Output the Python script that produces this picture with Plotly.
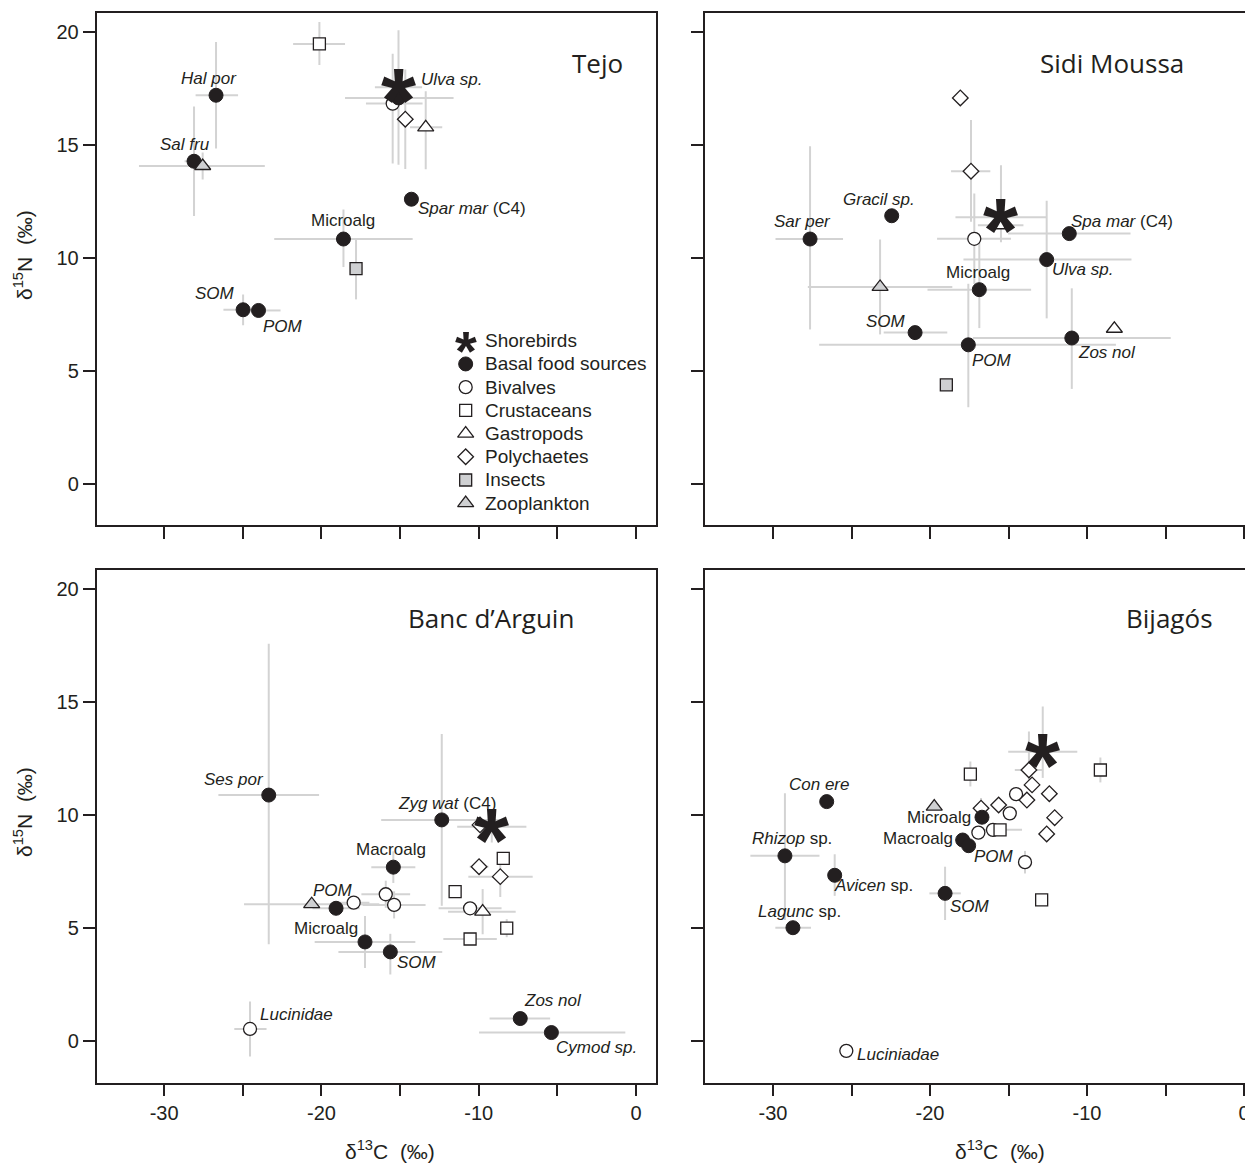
import plotly.graph_objects as go

# ---------------------------------------------------------------- data ----
GROUP_ORDER = ["Bivalves", "Crustaceans", "Gastropods", "Polychaetes",
               "Insects", "Basal food sources", "Zooplankton"]
LEGEND_NAMES = ["Shorebirds", "Basal food sources", "Bivalves", "Crustaceans",
                "Gastropods", "Polychaetes", "Insects", "Zooplankton"]

X_TICKS = [-30, -20, -10, 0]
X_TICK_TEXT = ["-30", "-20", "-10", "0"]
X_MINOR_STEP = 5
Y_TICKS = [0, 5, 10, 15, 20]

# --- Tejo
TEJO_GROUP = ["Shorebirds", "Basal food sources", "Bivalves", "Polychaetes", "Gastropods",
              "Crustaceans", "Basal food sources", "Basal food sources", "Zooplankton",
              "Basal food sources", "Insects", "Basal food sources", "Basal food sources",
              "Basal food sources"]
TEJO_X = [-15.1, -15.1, -15.47, -14.67, -13.37, -20.13, -26.7, -28.1, -27.55, -18.6, -17.8,
          -24.98, -24.0, -14.28]
TEJO_Y = [17.55, 17.08, 16.83, 16.14, 15.78, 19.47, 17.2, 14.28, 14.07, 10.84, 9.53, 7.71,
          7.68, 12.6]
TEJO_EXM = [1.5, 3.4, 1.7, 0.5, 1.0, 1.67, 1.3, 0.6, 4.05, 4.4, 0, 1.25, 0.5, 0]
TEJO_EXP = [1.5, 3.5, 1.9, 0.5, 1.05, 1.63, 1.4, 0.6, 3.95, 4.4, 0, 0.5, 1.4, 0]
TEJO_EYM = [0.8, 2.95, 2.65, 2.2, 1.85, 0.93, 2.36, 2.42, 0.6, 1.24, 1.36, 0.68, 0.3, 0]
TEJO_EYP = [0.8, 3.0, 2.2, 2.2, 1.6, 0.97, 2.36, 2.42, 0.6, 1.31, 1.31, 0.68, 0.3, 0]

# --- Sidi Moussa
SIDI_GROUP = ["Shorebirds", "Gastropods", "Polychaetes", "Polychaetes", "Basal food sources",
              "Basal food sources", "Zooplankton", "Bivalves", "Basal food sources",
              "Basal food sources", "Basal food sources", "Basal food sources",
              "Basal food sources", "Basal food sources", "Gastropods", "Insects"]
SIDI_X = [-15.48, -15.5, -18.07, -17.39, -22.44, -27.64, -23.18, -17.18, -11.13, -12.57,
          -16.86, -20.95, -17.56, -10.97, -8.26, -18.96]
SIDI_Y = [11.8, 11.45, 17.08, 13.84, 11.87, 10.84, 8.72, 10.85, 11.08, 9.93, 8.6, 6.7, 6.16,
          6.46, 6.87, 4.39]
SIDI_EXM = [2.9, 1.45, 0, 1.27, 0, 2.2, 4.6, 2.37, 3.9, 5.3, 3.3, 2.0, 9.5, 6.3, 0, 0]
SIDI_EXP = [2.9, 1.45, 0, 1.23, 0, 2.1, 4.6, 2.34, 3.9, 5.4, 3.3, 2.05, 9.4, 6.3, 0, 0]
SIDI_EYM = [1.1, 0, 0, 2.24, 0, 4.0, 2.1, 2.0, 0, 2.6, 1.7, 0.3, 2.76, 2.25, 0, 0]
SIDI_EYP = [2.3, 0, 0, 2.26, 0, 4.1, 2.1, 2.0, 0, 2.6, 2.1, 0.3, 2.7, 2.2, 0, 0]

# --- Banc d'Arguin
BANC_GROUP = ["Shorebirds", "Basal food sources", "Zooplankton", "Basal food sources",
              "Bivalves", "Basal food sources", "Bivalves", "Basal food sources",
              "Polychaetes", "Crustaceans", "Polychaetes", "Polychaetes",
              "Basal food sources", "Crustaceans", "Bivalves", "Bivalves", "Bivalves",
              "Gastropods", "Crustaceans", "Crustaceans", "Basal food sources",
              "Basal food sources", "Basal food sources"]
BANC_X = [-9.17, -23.35, -20.62, -19.07, -17.95, -17.23, -24.54, -12.35, -9.92, -8.44, -9.98,
          -8.63, -15.43, -11.5, -15.91, -15.38, -10.55, -9.75, -8.22, -10.55, -15.62, -7.36,
          -5.38]
BANC_Y = [9.48, 10.88, 6.05, 5.87, 6.12, 4.38, 0.53, 9.78, 9.56, 8.08, 7.71, 7.27, 7.69, 6.61,
          6.49, 6.02, 5.87, 5.72, 4.99, 4.51, 3.94, 0.99, 0.37]
BANC_EXM = [2.2, 3.2, 4.3, 1.5, 1.0, 3.2, 1.0, 3.85, 0, 0, 0.6, 2.03, 1.4, 0, 1.55, 2.0, 2.0,
            2.2, 0, 1.7, 3.3, 1.95, 4.6]
BANC_EXP = [2.2, 3.2, 4.3, 1.5, 1.0, 3.2, 1.05, 3.85, 0, 0, 0.6, 2.06, 1.4, 0, 1.55, 2.0, 2.0,
            2.1, 0, 1.7, 3.3, 1.9, 4.7]
BANC_EYM = [0.7, 6.6, 0, 0.3, 0, 1.15, 1.22, 3.8, 0, 0, 0, 0.9, 0.7, 0, 0.6, 0.6, 0, 1.0, 0.4,
            0, 1.0, 0.3, 0]
BANC_EYP = [0.7, 6.7, 0, 0.3, 0, 1.15, 1.21, 3.8, 0, 0, 0, 0.9, 0.7, 0, 0.6, 0.6, 0, 1.0, 0.4,
            0, 0.8, 0.3, 0]

# --- Bijagós
BIJA_GROUP = ["Shorebirds", "Crustaceans", "Crustaceans", "Crustaceans", "Crustaceans",
              "Polychaetes", "Polychaetes", "Polychaetes", "Polychaetes", "Polychaetes",
              "Polychaetes", "Polychaetes", "Polychaetes", "Bivalves", "Bivalves", "Bivalves",
              "Bivalves", "Bivalves", "Bivalves", "Zooplankton", "Basal food sources",
              "Basal food sources", "Basal food sources", "Basal food sources",
              "Basal food sources", "Basal food sources", "Basal food sources",
              "Basal food sources"]
BIJA_X = [-12.82, -17.43, -9.15, -15.54, -12.89, -13.7, -13.5, -12.4, -13.83, -15.63, -16.75,
          -12.06, -12.57, -14.52, -14.92, -16.92, -15.99, -13.95, -25.33, -19.73, -26.58,
          -29.24, -26.07, -28.73, -16.69, -17.92, -17.54, -19.04]
BIJA_Y = [12.8, 11.81, 11.99, 9.34, 6.24, 11.99, 11.33, 10.94, 10.66, 10.44, 10.3, 9.88, 9.16,
          10.92, 10.07, 9.22, 9.34, 7.91, -0.44, 10.37, 10.59, 8.19, 7.33, 5.01, 9.9, 8.89,
          8.64, 6.53]
BIJA_EXM = [2.2, 0, 0, 1.4, 0, 0.9, 0, 0, 0, 0, 0, 0, 0, 0, 0, 0, 0, 0, 0, 0, 0, 2.2, 0, 1.12,
            0, 0, 0, 1.0]
BIJA_EXP = [2.2, 0, 0, 1.4, 0, 0.9, 0, 0, 0, 0, 0, 0, 0, 0, 0, 0, 0, 0, 0, 0, 0, 2.2, 0, 1.15,
            0, 0, 0, 1.0]
BIJA_EYM = [1.16, 0.55, 0.55, 0, 0, 0.5, 0, 0, 0, 0, 0.45, 0, 0, 0, 0, 0, 0, 0.5, 0, 0, 0,
            2.84, 0.91, 0, 0, 0, 0, 1.18]
BIJA_EYP = [2.0, 0.55, 0.55, 0, 0, 1.7, 0, 0, 0, 0, 0.45, 0, 0, 0, 0, 0, 0, 0.5, 0, 0, 0,
            2.77, 0.93, 0, 0, 0, 0, 1.18]

# point labels: (text, x, y) in data units of each panel
TEJO_LABELS = [("<i>Hal por</i>", -27.15, 17.96), ("<i>Sal fru</i>", -28.67, 15.04),
               ("Microalg", -18.63, 11.64), ("<i>SOM</i>", -26.76, 8.45),
               ("<i>POM</i>", -22.44, 6.95), ("<i>Ulva sp.</i>", -11.75, 17.88),
               ("<i>Spar mar</i> (C4)", -10.4, 12.18)]
SIDI_LABELS = [("<i>Gracil sp.</i>", -23.25, 12.6), ("<i>Sar per</i>", -28.1, 11.62),
               ("Microalg", -16.96, 9.35), ("<i>Spa mar</i> (C4)", -7.75, 11.6),
               ("<i>Ulva sp.</i>", -10.3, 9.5), ("<i>SOM</i>", -22.8, 7.21),
               ("<i>POM</i>", -16.05, 5.47), ("<i>Zos nol</i>", -8.75, 5.84)]
BANC_LABELS = [("<i>Ses por</i>", -25.54, 11.59), ("<i>POM</i>", -19.28, 6.65),
               ("Microalg", -19.71, 4.96), ("<i>Lucinidae</i>", -21.61, 1.15),
               ("<i>Zyg wat</i> (C4)", -12.03, 10.49), ("Macroalg", -15.58, 8.45),
               ("<i>SOM</i>", -13.94, 3.46), ("<i>Zos nol</i>", -5.26, 1.81),
               ("<i>Cymod sp.</i>", -2.5, -0.28)]
BIJA_LABELS = [("<i>Con ere</i>", -27.05, 11.36), ("<i>Rhizop</i> sp.", -28.77, 8.94),
               ("<i>Avicen</i> sp.", -23.57, 6.87), ("<i>Lagunc</i> sp.", -28.34, 5.74),
               ("Microalg", -19.41, 9.87), ("Macroalg", -20.79, 8.94),
               ("<i>POM</i>", -15.92, 8.15), ("<i>SOM</i>", -17.45, 5.97),
               ("<i>Luciniadae</i>", -22.02, -0.58)]

PANEL_TITLES = ["Tejo", "Sidi Moussa", "Banc d\u2019Arguin", "Bijag\u00f3s"]

# ---------------------------------------------------------------- style ---
INK = "#231f20"
GREY = "#cfd0d2"
ERRC = "#d3d3d3"
FONT = "Liberation Sans"

STYLE = {
    "Basal food sources": dict(symbol="circle", size=14, color=INK, line=dict(color=INK, width=1)),
    "Bivalves": dict(symbol="circle", size=13, color="white", line=dict(color=INK, width=1.3)),
    "Crustaceans": dict(symbol="square", size=12, color="white", line=dict(color=INK, width=1.3)),
    "Gastropods": dict(symbol="triangle-up", size=14, color="white", line=dict(color=INK, width=1.3)),
    "Polychaetes": dict(symbol="diamond", size=12, color="white", line=dict(color=INK, width=1.3)),
    "Insects": dict(symbol="square", size=12, color=GREY, line=dict(color=INK, width=1.3)),
    "Zooplankton": dict(symbol="triangle-up", size=14, color=GREY, line=dict(color=INK, width=1.3)),
}

# page offset (default body margin) -> figure drawn 8 px in from the page corner
OFF = 8
W, H = 1253 - OFF, 1165 - OFF


def px_x(p):
    return (p - OFF) / W


def px_y(p):
    return 1 - (p - OFF) / H


XD = [[px_x(96.5), px_x(656)], [px_x(705), 1.0]]
YD = [[px_y(525), px_y(12.5)], [px_y(1082.5), px_y(570)]]
XR = [[-34.3, 1.27], [-34.33, 0.57]]
YR = [[-1.81, 20.86], [-1.84, 20.84]]
TITLE_POS = [(-2.48, 18.63), (-8.43, 18.63), (-9.19, 18.72), (-4.75, 18.72)]

PANELS = [
    (TEJO_GROUP, TEJO_X, TEJO_Y, TEJO_EXM, TEJO_EXP, TEJO_EYM, TEJO_EYP, TEJO_LABELS),
    (SIDI_GROUP, SIDI_X, SIDI_Y, SIDI_EXM, SIDI_EXP, SIDI_EYM, SIDI_EYP, SIDI_LABELS),
    (BANC_GROUP, BANC_X, BANC_Y, BANC_EXM, BANC_EXP, BANC_EYM, BANC_EYP, BANC_LABELS),
    (BIJA_GROUP, BIJA_X, BIJA_Y, BIJA_EXM, BIJA_EXP, BIJA_EYM, BIJA_EYP, BIJA_LABELS),
]

fig = go.Figure()
annotations = []
layout_axes = {}

for i, (grp, xs, ys, exm, exp, eym, eyp, labels) in enumerate(PANELS):
    col, row = i % 2, i // 2
    sfx = "" if i == 0 else str(i + 1)
    xref, yref = "x" + sfx, "y" + sfx

    # error bars (behind all markers)
    fig.add_trace(go.Scatter(
        x=xs, y=ys, mode="markers", xaxis=xref, yaxis=yref,
        marker=dict(size=2, opacity=0), hoverinfo="skip", showlegend=False,
        error_x=dict(type="data", symmetric=False, array=exp, arrayminus=exm,
                     color=ERRC, thickness=2, width=0),
        error_y=dict(type="data", symmetric=False, array=eyp, arrayminus=eym,
                     color=ERRC, thickness=2, width=0)))

    for g in GROUP_ORDER:
        gx = [x for x, gg in zip(xs, grp) if gg == g]
        gy = [y for y, gg in zip(ys, grp) if gg == g]
        if not gx:
            continue
        fig.add_trace(go.Scatter(x=gx, y=gy, mode="markers", xaxis=xref, yaxis=yref,
                                 marker=STYLE[g], name=g, showlegend=False))

    # shorebirds as a bold asterisk glyph
    for x, y, gg in zip(xs, ys, grp):
        if gg == "Shorebirds":
            annotations.append(dict(x=x, y=y, xref=xref, yref=yref, text="*", showarrow=False,
                                    yshift=-14, font=dict(family=FONT, size=90, color=INK,
                                                          weight="bold")))

    for txt, lx, ly in labels:
        annotations.append(dict(x=lx, y=ly, xref=xref, yref=yref, text=txt, showarrow=False,
                                font=dict(family=FONT, size=17, color=INK)))

    tx, ty = TITLE_POS[i]
    annotations.append(dict(x=tx, y=ty, xref=xref, yref=yref, text=PANEL_TITLES[i],
                            showarrow=False, font=dict(family="Open Sans", size=26, color=INK)))

    layout_axes["xaxis" + sfx] = dict(
        domain=XD[col], range=XR[col], anchor=yref, tickmode="array",
        tickvals=X_TICKS, ticktext=X_TICK_TEXT,
        minor=dict(tickmode="linear", tick0=0, dtick=X_MINOR_STEP, ticks="outside",
                   ticklen=12, tickwidth=1.5, tickcolor=INK, showgrid=False),
        showticklabels=(row == 1), ticks="outside", ticklen=12, tickwidth=1.5, tickcolor=INK,
        showline=True, linecolor=INK, linewidth=1.5, mirror=True, showgrid=False,
        zeroline=False, tickfont=dict(family=FONT, size=20, color=INK))
    layout_axes["yaxis" + sfx] = dict(
        domain=YD[row], range=YR[row], anchor=xref, tickvals=Y_TICKS,
        showticklabels=(col == 0), ticks="outside", ticklen=12, tickwidth=1.5, tickcolor=INK,
        showline=True, linecolor=INK, linewidth=1.5, mirror=(col == 0), showgrid=False,
        zeroline=False, tickfont=dict(family=FONT, size=20, color=INK))

# legend (top-left panel)
LEG_MARK_X, LEG_TEXT_X = -10.83, -9.75
for k, name in enumerate(LEGEND_NAMES):
    ly = (484 - (340.7 + 23.2 * k)) / 22.6
    if name == "Shorebirds":
        annotations.append(dict(x=LEG_MARK_X, y=ly, xref="x", yref="y", text="*", showarrow=False,
                                yshift=-10, font=dict(family=FONT, size=56, color=INK,
                                                      weight="bold")))
    else:
        fig.add_trace(go.Scatter(x=[LEG_MARK_X], y=[ly], mode="markers", xaxis="x", yaxis="y",
                                 marker=STYLE[name], showlegend=False, hoverinfo="skip"))
    annotations.append(dict(x=LEG_TEXT_X, y=ly, xref="x", yref="y", text=name, showarrow=False,
                            xanchor="left", font=dict(family=FONT, size=19, color=INK)))

# axis titles
for yc in (px_y(255), px_y(812)):
    annotations.append(dict(x=px_x(23), y=yc, xref="paper", yref="paper", showarrow=False,
                            xanchor="center", yanchor="middle",
                            text="\u03b4<sup>15</sup>N  (\u2030)", textangle=-90,
                            font=dict(family=FONT, size=21, color=INK)))
for xc in (px_x(390), px_x(1000)):
    annotations.append(dict(x=xc, y=px_y(1150), xref="paper", yref="paper", showarrow=False,
                            xanchor="center", yanchor="middle",
                            text="\u03b4<sup>13</sup>C  (\u2030)",
                            font=dict(family=FONT, size=21, color=INK)))

fig.update_layout(width=W, height=H, margin=dict(l=0, r=0, t=0, b=0),
                  paper_bgcolor="white", plot_bgcolor="white", showlegend=False,
                  annotations=annotations, **layout_axes)

fig.write_html("out.html")
